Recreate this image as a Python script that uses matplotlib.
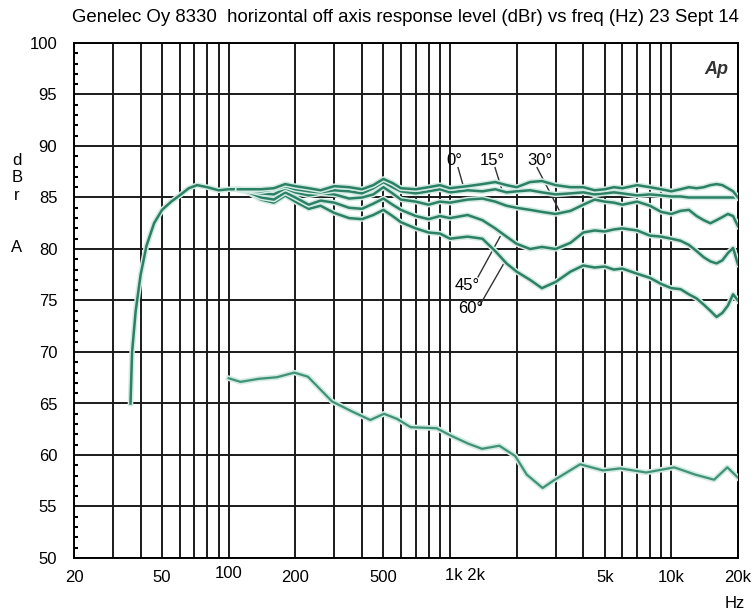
import numpy as np
import matplotlib
matplotlib.use("Agg")
import matplotlib.pyplot as plt
import matplotlib.patheffects as pe
from matplotlib.ticker import FixedLocator, NullFormatter
from matplotlib.transforms import ScaledTranslation, blended_transform_factory

plt.rcParams['font.family'] = ['Liberation Sans', 'DejaVu Sans']

# shared low frequency roll-off (all angles coincide here)
lf_freq = [36.0, 36.6, 38.0, 40.0, 42.5, 46, 50, 55, 60, 66, 72, 80, 90, 100, 110]
lf_level = [65.0, 70.0, 74.0, 77.5, 80.3, 82.5, 83.8, 84.6, 85.2, 85.9, 86.2, 86.0, 85.7, 85.8, 85.8]

# off axis curves above 120 Hz
freq = [120, 140, 160, 180, 200, 230, 260, 300, 350, 400, 450, 500, 550, 600, 700, 800, 900,
        1000, 1200, 1400, 1600, 1800, 2000, 2300, 2600, 3000, 3500, 4000, 4500, 5000, 5500,
        6000, 7000, 8000, 9000, 10000, 11000, 12000, 13000, 14000, 15000, 16000, 17000,
        18000, 19000, 20000]
deg0 = [85.7, 85.6, 85.8, 86.1, 85.8, 85.6, 85.5, 85.7, 85.6, 85.4, 85.9, 86.5, 86.0, 85.6, 85.4,
        85.6, 85.8, 85.5, 85.7, 85.6, 85.8, 85.5, 85.6, 85.7, 85.5, 85.3, 85.4, 85.5, 85.3, 85.4,
        85.5, 85.4, 85.2, 85.3, 85.2, 85.1, 85.1, 85.0, 85.0, 85.0, 85.0, 85.0, 85.0, 85.0, 85.0, 85.0]
deg15 = [85.8, 85.8, 85.9, 86.3, 86.1, 85.9, 85.7, 86.1, 86.0, 85.8, 86.2, 86.8, 86.4, 85.9, 85.8,
         86.0, 86.2, 85.9, 86.1, 86.3, 86.5, 86.2, 86.0, 86.5, 86.6, 86.2, 86.0, 86.0, 85.7, 85.8,
         86.0, 85.9, 86.2, 86.0, 85.8, 85.6, 85.8, 86.0, 85.9, 86.0, 86.2, 86.3, 86.2, 85.9, 85.6, 85.0]
deg30 = [85.7, 85.4, 85.3, 85.9, 85.5, 85.2, 85.4, 85.3, 84.9, 85.0, 85.3, 86.0, 85.4, 84.8, 84.6,
         84.3, 84.6, 84.5, 84.8, 84.9, 84.6, 84.2, 84.0, 83.8, 83.6, 83.4, 83.7, 84.3, 84.8, 84.6,
         84.5, 84.3, 84.6, 84.2, 83.6, 83.4, 83.7, 83.8, 83.2, 82.8, 82.5, 82.8, 83.1, 83.4, 83.2, 82.2]
deg45 = [85.6, 85.0, 84.8, 85.5, 85.0, 84.3, 84.7, 84.5, 84.0, 83.9, 84.4, 84.9, 84.3, 83.8, 83.2,
         82.9, 83.2, 83.0, 83.3, 82.8, 82.0, 81.2, 80.5, 80.0, 80.2, 80.0, 80.6, 81.6, 81.8, 81.7,
         81.9, 82.0, 81.8, 81.3, 81.2, 81.0, 80.8, 80.4, 79.8, 79.2, 78.8, 78.6, 78.9, 79.6, 80.1, 78.5]
deg60 = [85.6, 84.8, 84.5, 85.2, 84.6, 83.9, 84.2, 83.5, 83.0, 82.9, 83.3, 83.8, 83.2, 82.6, 82.0,
         81.6, 81.5, 81.0, 81.2, 81.0, 79.8, 78.6, 77.8, 77.0, 76.2, 76.8, 77.8, 78.4, 78.2, 78.3,
         78.0, 78.1, 77.6, 77.2, 76.6, 76.2, 76.1, 75.6, 75.2, 74.6, 74.0, 73.4, 73.8, 74.5, 75.6, 75.0]

# lower trace
low_freq = [100, 113, 137, 165, 198, 228, 293, 363, 436, 503, 577, 664, 870, 1004, 1209, 1395,
            1670, 1970, 2220, 2620, 2925, 3870, 4910, 5880, 7700, 10300, 12800, 15600, 17900, 20000]
low_level = [67.45, 67.1, 67.4, 67.55, 68.0, 67.6, 65.2, 64.2, 63.4, 64.0, 63.5, 62.7, 62.6, 61.9,
             61.1, 60.6, 60.9, 59.9, 58.1, 56.8, 57.5, 59.1, 58.5, 58.7, 58.3, 58.8, 58.1, 57.6,
             58.8, 57.8]

xtick_vals = [20, 50, 100, 200, 500, 5000, 10000, 20000]
xtick_text = ['20', '50', '100', '200', '500', '5k', '10k', '20k']

green = '#2b8065'
halo = [pe.withStroke(linewidth=4.0, foreground='#d3ebe2')]

fig = plt.figure(figsize=(7.56, 6.10), dpi=100)
ax = fig.add_axes([74 / 756, 1 - 558 / 610, (738 - 74) / 756, (558 - 43) / 610])
ax.set_xscale('log')
ax.set_xlim(20, 20000)
ax.set_ylim(50, 100)

ax.plot(lf_freq, lf_level, color=green, lw=1.8, path_effects=halo, zorder=3)
for lev in [deg60, deg45, deg30, deg0, deg15]:
    ax.plot([lf_freq[-1]] + freq, [lf_level[-1]] + lev, color=green, lw=1.8,
            path_effects=halo, zorder=3)
ax.plot(low_freq, low_level, color='#3f9277', lw=1.6, path_effects=halo, zorder=3)

# grid
grid_x = [m * 10 ** d for d in range(1, 5) for m in range(1, 10) if 20 <= m * 10 ** d <= 20000]
ax.xaxis.set_major_locator(FixedLocator(xtick_vals))
ax.xaxis.set_minor_locator(FixedLocator(grid_x))
ax.xaxis.set_minor_formatter(NullFormatter())
ax.set_xticklabels(xtick_text)
ax.set_yticks(np.arange(50, 101, 5))
ax.yaxis.set_minor_locator(FixedLocator(np.arange(50, 101, 1)))
ax.grid(True, which='both', axis='x', color='#1a1a1a', lw=1.4, zorder=1)
ax.grid(True, which='major', axis='y', color='#1a1a1a', lw=1.4, zorder=1)
ax.tick_params(axis='x', which='both', length=0, pad=9, labelsize=12)
ax.tick_params(axis='y', which='major', length=0, pad=12, labelsize=12)
ax.tick_params(axis='y', which='minor', direction='in', length=3, width=1.5)
ax.tick_params(axis='x', which='minor', length=0)
for s in ax.spines.values():
    s.set_linewidth(1.4)

# the "100" label sits a bit higher
lab100 = ax.get_xticklabels()[2]
lab100.set_transform(lab100.get_transform() + ScaledTranslation(0, 5 / 100, fig.dpi_scale_trans))

trans = blended_transform_factory(ax.transData, ax.transAxes)
ax.text(1170, -0.019, '1k 2k', transform=trans, ha='center', va='top', fontsize=12)

# angle labels with leader lines
lead = dict(color='#333333', lw=1)
ax.text(965, 88.6, '0°', fontsize=12, ha='left', va='center')
ax.plot([1087, 1145], [87.9, 86.2], **lead)
ax.text(1368, 88.6, '15°', fontsize=12, ha='left', va='center')
ax.plot([1597, 1718], [87.9, 85.7], **lead)
ax.text(2228, 88.6, '30°', fontsize=12, ha='left', va='center')
ax.plot([2473, 3140], [87.9, 83.6], **lead)
ax.text(1054, 76.5, '45°', fontsize=12, ha='left', va='center')
ax.plot([1339, 1683], [77.3, 81.2], **lead)
ax.text(1087, 74.2, '60°', fontsize=12, ha='left', va='center')
ax.plot([1368, 1750], [74.6, 78.6], **lead)

ax.text(0.985, 0.965, 'Ap', transform=ax.transAxes, fontsize=13, fontweight='bold',
        style='italic', color='#333333', ha='right', va='top')

fig.text(72 / 756, 1 - 18 / 610, 'Genelec Oy 8330  horizontal off axis response level (dBr) '
         'vs freq (Hz) 23 Sept 14', fontsize=13.4, ha='left', va='center')
for ch, yp in zip(['d', 'B', 'r', 'A'], [160, 178, 196, 247]):
    fig.text(17 / 756, 1 - yp / 610, ch, fontsize=12, ha='center', va='center')
fig.text(735 / 756, 1 - 603 / 610, 'Hz', fontsize=12, ha='center', va='center')

fig.savefig('out.png', dpi=100)
